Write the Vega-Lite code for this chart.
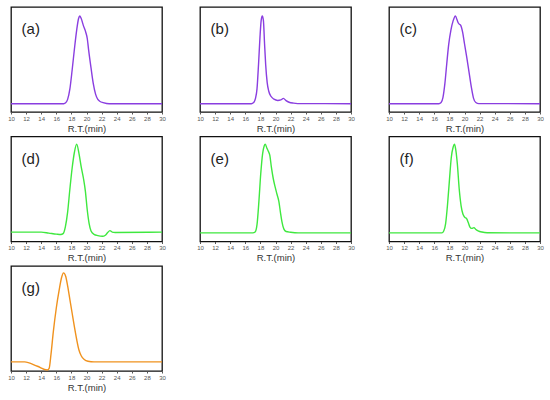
{
  "$schema": "https://vega.github.io/schema/vega-lite/v6.json",
  "padding": {"left": 7, "top": 6, "right": 5, "bottom": 5},
  "background": "white",
  "datasets": {
    "gpc": [
    {"panel": "(a)", "t": 10, "s": 7.9}, {"panel": "(a)", "t": 17.0, "s": 7.9}, {"panel": "(a)", "t": 17.2, "s": 8.5}, {"panel": "(a)", "t": 17.5, "s": 12}, {"panel": "(a)", "t": 17.8, "s": 22}, {"panel": "(a)", "t": 18.1, "s": 40}, {"panel": "(a)", "t": 18.4, "s": 60}, {"panel": "(a)", "t": 18.7, "s": 78}, {"panel": "(a)", "t": 18.95, "s": 89}, {"panel": "(a)", "t": 19.1, "s": 91.5}, {"panel": "(a)", "t": 19.3, "s": 89}, {"panel": "(a)", "t": 19.6, "s": 82}, {"panel": "(a)", "t": 19.9, "s": 76}, {"panel": "(a)", "t": 20.1, "s": 70}, {"panel": "(a)", "t": 20.3, "s": 58}, {"panel": "(a)", "t": 20.6, "s": 42}, {"panel": "(a)", "t": 20.9, "s": 27}, {"panel": "(a)", "t": 21.2, "s": 17}, {"panel": "(a)", "t": 21.5, "s": 12}, {"panel": "(a)", "t": 21.8, "s": 10}, {"panel": "(a)", "t": 22.2, "s": 9}, {"panel": "(a)", "t": 23.0, "s": 7.9}, {"panel": "(a)", "t": 30, "s": 7.9},

    {"panel": "(b)", "t": 10, "s": 7.9}, {"panel": "(b)", "t": 16.8, "s": 7.9}, {"panel": "(b)", "t": 17.1, "s": 9}, {"panel": "(b)", "t": 17.35, "s": 13}, {"panel": "(b)", "t": 17.55, "s": 22}, {"panel": "(b)", "t": 17.75, "s": 45}, {"panel": "(b)", "t": 17.95, "s": 72}, {"panel": "(b)", "t": 18.1, "s": 87}, {"panel": "(b)", "t": 18.25, "s": 91.5}, {"panel": "(b)", "t": 18.4, "s": 87}, {"panel": "(b)", "t": 18.55, "s": 65}, {"panel": "(b)", "t": 18.7, "s": 45}, {"panel": "(b)", "t": 18.9, "s": 28}, {"panel": "(b)", "t": 19.1, "s": 20}, {"panel": "(b)", "t": 19.4, "s": 15}, {"panel": "(b)", "t": 19.8, "s": 12.2}, {"panel": "(b)", "t": 20.3, "s": 11}, {"panel": "(b)", "t": 20.7, "s": 11.5}, {"panel": "(b)", "t": 21.05, "s": 13}, {"panel": "(b)", "t": 21.4, "s": 10.8}, {"panel": "(b)", "t": 21.8, "s": 9.3}, {"panel": "(b)", "t": 22.4, "s": 8.5}, {"panel": "(b)", "t": 23.5, "s": 8}, {"panel": "(b)", "t": 30, "s": 7.9},

    {"panel": "(c)", "t": 10, "s": 7.9}, {"panel": "(c)", "t": 16.6, "s": 7.9}, {"panel": "(c)", "t": 16.9, "s": 9}, {"panel": "(c)", "t": 17.15, "s": 14}, {"panel": "(c)", "t": 17.4, "s": 27}, {"panel": "(c)", "t": 17.65, "s": 46}, {"panel": "(c)", "t": 17.9, "s": 64}, {"panel": "(c)", "t": 18.2, "s": 78}, {"panel": "(c)", "t": 18.5, "s": 87}, {"panel": "(c)", "t": 18.8, "s": 91.5}, {"panel": "(c)", "t": 19.0, "s": 88}, {"panel": "(c)", "t": 19.2, "s": 84.5}, {"panel": "(c)", "t": 19.5, "s": 82.5}, {"panel": "(c)", "t": 19.75, "s": 76}, {"panel": "(c)", "t": 20.0, "s": 65}, {"panel": "(c)", "t": 20.3, "s": 52}, {"panel": "(c)", "t": 20.6, "s": 38}, {"panel": "(c)", "t": 20.9, "s": 24}, {"panel": "(c)", "t": 21.2, "s": 13}, {"panel": "(c)", "t": 21.5, "s": 9}, {"panel": "(c)", "t": 21.9, "s": 8}, {"panel": "(c)", "t": 30, "s": 7.9},

    {"panel": "(d)", "t": 10, "s": 8.9}, {"panel": "(d)", "t": 14, "s": 8.9}, {"panel": "(d)", "t": 15, "s": 8}, {"panel": "(d)", "t": 16, "s": 7}, {"panel": "(d)", "t": 16.6, "s": 6.6}, {"panel": "(d)", "t": 16.9, "s": 7.5}, {"panel": "(d)", "t": 17.2, "s": 14}, {"panel": "(d)", "t": 17.5, "s": 28}, {"panel": "(d)", "t": 17.8, "s": 50}, {"panel": "(d)", "t": 18.1, "s": 70}, {"panel": "(d)", "t": 18.4, "s": 85}, {"panel": "(d)", "t": 18.7, "s": 92.7}, {"panel": "(d)", "t": 19.0, "s": 84}, {"panel": "(d)", "t": 19.3, "s": 71}, {"panel": "(d)", "t": 19.6, "s": 60}, {"panel": "(d)", "t": 19.85, "s": 48}, {"panel": "(d)", "t": 20.1, "s": 30}, {"panel": "(d)", "t": 20.35, "s": 17}, {"panel": "(d)", "t": 20.6, "s": 10}, {"panel": "(d)", "t": 21.0, "s": 6.8}, {"panel": "(d)", "t": 21.5, "s": 5.6}, {"panel": "(d)", "t": 22.1, "s": 5}, {"panel": "(d)", "t": 22.5, "s": 6}, {"panel": "(d)", "t": 22.8, "s": 8.5}, {"panel": "(d)", "t": 23.1, "s": 10.4}, {"panel": "(d)", "t": 23.4, "s": 9}, {"panel": "(d)", "t": 23.8, "s": 8.6}, {"panel": "(d)", "t": 30, "s": 8.9},

    {"panel": "(e)", "t": 10, "s": 8.2}, {"panel": "(e)", "t": 17.0, "s": 8.2}, {"panel": "(e)", "t": 17.3, "s": 9}, {"panel": "(e)", "t": 17.55, "s": 16}, {"panel": "(e)", "t": 17.8, "s": 38}, {"panel": "(e)", "t": 18.05, "s": 65}, {"panel": "(e)", "t": 18.3, "s": 84}, {"panel": "(e)", "t": 18.5, "s": 91}, {"panel": "(e)", "t": 18.65, "s": 92.7}, {"panel": "(e)", "t": 18.85, "s": 89}, {"panel": "(e)", "t": 19.05, "s": 86}, {"panel": "(e)", "t": 19.25, "s": 82}, {"panel": "(e)", "t": 19.45, "s": 71}, {"panel": "(e)", "t": 19.7, "s": 60}, {"panel": "(e)", "t": 19.95, "s": 52}, {"panel": "(e)", "t": 20.2, "s": 45}, {"panel": "(e)", "t": 20.45, "s": 38}, {"panel": "(e)", "t": 20.65, "s": 28}, {"panel": "(e)", "t": 20.85, "s": 19}, {"panel": "(e)", "t": 21.1, "s": 12}, {"panel": "(e)", "t": 21.4, "s": 9.5}, {"panel": "(e)", "t": 22, "s": 8.8}, {"panel": "(e)", "t": 23, "s": 8.2}, {"panel": "(e)", "t": 30, "s": 8.2},

    {"panel": "(f)", "t": 10, "s": 8.2}, {"panel": "(f)", "t": 17.0, "s": 8.2}, {"panel": "(f)", "t": 17.25, "s": 10}, {"panel": "(f)", "t": 17.5, "s": 17}, {"panel": "(f)", "t": 17.75, "s": 35}, {"panel": "(f)", "t": 18.0, "s": 58}, {"panel": "(f)", "t": 18.25, "s": 80}, {"panel": "(f)", "t": 18.5, "s": 90}, {"panel": "(f)", "t": 18.68, "s": 92.7}, {"panel": "(f)", "t": 18.85, "s": 87}, {"panel": "(f)", "t": 19.05, "s": 74}, {"panel": "(f)", "t": 19.3, "s": 50}, {"panel": "(f)", "t": 19.55, "s": 34}, {"panel": "(f)", "t": 19.8, "s": 26}, {"panel": "(f)", "t": 20.05, "s": 23}, {"panel": "(f)", "t": 20.3, "s": 21.5}, {"panel": "(f)", "t": 20.5, "s": 18}, {"panel": "(f)", "t": 20.7, "s": 14}, {"panel": "(f)", "t": 20.95, "s": 12.5}, {"panel": "(f)", "t": 21.25, "s": 13.2}, {"panel": "(f)", "t": 21.5, "s": 11.5}, {"panel": "(f)", "t": 21.8, "s": 10.2}, {"panel": "(f)", "t": 22.3, "s": 9}, {"panel": "(f)", "t": 23, "s": 8.3}, {"panel": "(f)", "t": 30, "s": 8.2},

    {"panel": "(g)", "t": 10, "s": 8.7}, {"panel": "(g)", "t": 11.8, "s": 8.7}, {"panel": "(g)", "t": 13.5, "s": 4.5}, {"panel": "(g)", "t": 14.8, "s": 1}, {"panel": "(g)", "t": 15.05, "s": 2.5}, {"panel": "(g)", "t": 15.3, "s": 16}, {"panel": "(g)", "t": 15.6, "s": 37}, {"panel": "(g)", "t": 16.0, "s": 60}, {"panel": "(g)", "t": 16.4, "s": 78}, {"panel": "(g)", "t": 16.7, "s": 89}, {"panel": "(g)", "t": 16.95, "s": 93.5}, {"panel": "(g)", "t": 17.25, "s": 90}, {"panel": "(g)", "t": 17.5, "s": 81}, {"panel": "(g)", "t": 17.8, "s": 68}, {"panel": "(g)", "t": 18.1, "s": 55}, {"panel": "(g)", "t": 18.4, "s": 42}, {"panel": "(g)", "t": 18.7, "s": 30}, {"panel": "(g)", "t": 19.0, "s": 20}, {"panel": "(g)", "t": 19.3, "s": 14.5}, {"panel": "(g)", "t": 19.7, "s": 11}, {"panel": "(g)", "t": 20.2, "s": 9.3}, {"panel": "(g)", "t": 21, "s": 8.7}, {"panel": "(g)", "t": 30, "s": 8.7}
    ]
  },
  "data": {"name": "gpc"},
  "columns": 3,
  "spacing": {"row": 1.5, "column": 30},
  "concat": [
    {"width": 151, "height": 105, "transform": [{"filter": "datum.panel === '(a)'"}], "layer": [
      {"mark": {"type": "line", "strokeWidth": 1.4, "interpolate": "monotone", "color": "#8a3ee0"},
       "encoding": {"x": {"field": "t", "type": "quantitative", "scale": {"domain": [10, 30], "nice": false}, "title": "R.T.(min)", "axis": {"values": [10, 12, 14, 16, 18, 20, 22, 24, 26, 28, 30], "labelOverlap": false}},
                    "y": {"field": "s", "type": "quantitative", "scale": {"domain": [0, 100], "nice": false}, "axis": null}}},
      {"transform": [{"aggregate": [], "groupby": ["panel"]}], "mark": {"type": "text", "align": "left", "baseline": "middle", "fontSize": 15, "font": "Liberation Sans", "color": "#222"},
       "encoding": {"x": {"datum": 11.4, "type": "quantitative", "title": "R.T.(min)", "axis": {"values": [10, 12, 14, 16, 18, 20, 22, 24, 26, 28, 30], "labelOverlap": false}}, "y": {"datum": 79, "type": "quantitative", "axis": null}, "text": {"field": "panel"}}}
    ]},
    {"width": 151, "height": 105, "transform": [{"filter": "datum.panel === '(b)'"}], "layer": [
      {"mark": {"type": "line", "strokeWidth": 1.4, "interpolate": "monotone", "color": "#8a3ee0"},
       "encoding": {"x": {"field": "t", "type": "quantitative", "scale": {"domain": [10, 30], "nice": false}, "title": "R.T.(min)", "axis": {"values": [10, 12, 14, 16, 18, 20, 22, 24, 26, 28, 30], "labelOverlap": false}},
                    "y": {"field": "s", "type": "quantitative", "scale": {"domain": [0, 100], "nice": false}, "axis": null}}},
      {"transform": [{"aggregate": [], "groupby": ["panel"]}], "mark": {"type": "text", "align": "left", "baseline": "middle", "fontSize": 15, "font": "Liberation Sans", "color": "#222"},
       "encoding": {"x": {"datum": 11.4, "type": "quantitative", "title": "R.T.(min)", "axis": {"values": [10, 12, 14, 16, 18, 20, 22, 24, 26, 28, 30], "labelOverlap": false}}, "y": {"datum": 79, "type": "quantitative", "axis": null}, "text": {"field": "panel"}}}
    ]},
    {"width": 151, "height": 105, "transform": [{"filter": "datum.panel === '(c)'"}], "layer": [
      {"mark": {"type": "line", "strokeWidth": 1.4, "interpolate": "monotone", "color": "#8a3ee0"},
       "encoding": {"x": {"field": "t", "type": "quantitative", "scale": {"domain": [10, 30], "nice": false}, "title": "R.T.(min)", "axis": {"values": [10, 12, 14, 16, 18, 20, 22, 24, 26, 28, 30], "labelOverlap": false}},
                    "y": {"field": "s", "type": "quantitative", "scale": {"domain": [0, 100], "nice": false}, "axis": null}}},
      {"transform": [{"aggregate": [], "groupby": ["panel"]}], "mark": {"type": "text", "align": "left", "baseline": "middle", "fontSize": 15, "font": "Liberation Sans", "color": "#222"},
       "encoding": {"x": {"datum": 11.4, "type": "quantitative", "title": "R.T.(min)", "axis": {"values": [10, 12, 14, 16, 18, 20, 22, 24, 26, 28, 30], "labelOverlap": false}}, "y": {"datum": 79, "type": "quantitative", "axis": null}, "text": {"field": "panel"}}}
    ]},
    {"width": 151, "height": 105, "transform": [{"filter": "datum.panel === '(d)'"}], "layer": [
      {"mark": {"type": "line", "strokeWidth": 1.4, "interpolate": "monotone", "color": "#3fe83f"},
       "encoding": {"x": {"field": "t", "type": "quantitative", "scale": {"domain": [10, 30], "nice": false}, "title": "R.T.(min)", "axis": {"values": [10, 12, 14, 16, 18, 20, 22, 24, 26, 28, 30], "labelOverlap": false}},
                    "y": {"field": "s", "type": "quantitative", "scale": {"domain": [0, 100], "nice": false}, "axis": null}}},
      {"transform": [{"aggregate": [], "groupby": ["panel"]}], "mark": {"type": "text", "align": "left", "baseline": "middle", "fontSize": 15, "font": "Liberation Sans", "color": "#222"},
       "encoding": {"x": {"datum": 11.4, "type": "quantitative", "title": "R.T.(min)", "axis": {"values": [10, 12, 14, 16, 18, 20, 22, 24, 26, 28, 30], "labelOverlap": false}}, "y": {"datum": 79, "type": "quantitative", "axis": null}, "text": {"field": "panel"}}}
    ]},
    {"width": 151, "height": 105, "transform": [{"filter": "datum.panel === '(e)'"}], "layer": [
      {"mark": {"type": "line", "strokeWidth": 1.4, "interpolate": "monotone", "color": "#3fe83f"},
       "encoding": {"x": {"field": "t", "type": "quantitative", "scale": {"domain": [10, 30], "nice": false}, "title": "R.T.(min)", "axis": {"values": [10, 12, 14, 16, 18, 20, 22, 24, 26, 28, 30], "labelOverlap": false}},
                    "y": {"field": "s", "type": "quantitative", "scale": {"domain": [0, 100], "nice": false}, "axis": null}}},
      {"transform": [{"aggregate": [], "groupby": ["panel"]}], "mark": {"type": "text", "align": "left", "baseline": "middle", "fontSize": 15, "font": "Liberation Sans", "color": "#222"},
       "encoding": {"x": {"datum": 11.4, "type": "quantitative", "title": "R.T.(min)", "axis": {"values": [10, 12, 14, 16, 18, 20, 22, 24, 26, 28, 30], "labelOverlap": false}}, "y": {"datum": 79, "type": "quantitative", "axis": null}, "text": {"field": "panel"}}}
    ]},
    {"width": 151, "height": 105, "transform": [{"filter": "datum.panel === '(f)'"}], "layer": [
      {"mark": {"type": "line", "strokeWidth": 1.4, "interpolate": "monotone", "color": "#3fe83f"},
       "encoding": {"x": {"field": "t", "type": "quantitative", "scale": {"domain": [10, 30], "nice": false}, "title": "R.T.(min)", "axis": {"values": [10, 12, 14, 16, 18, 20, 22, 24, 26, 28, 30], "labelOverlap": false}},
                    "y": {"field": "s", "type": "quantitative", "scale": {"domain": [0, 100], "nice": false}, "axis": null}}},
      {"transform": [{"aggregate": [], "groupby": ["panel"]}], "mark": {"type": "text", "align": "left", "baseline": "middle", "fontSize": 15, "font": "Liberation Sans", "color": "#222"},
       "encoding": {"x": {"datum": 11.4, "type": "quantitative", "title": "R.T.(min)", "axis": {"values": [10, 12, 14, 16, 18, 20, 22, 24, 26, 28, 30], "labelOverlap": false}}, "y": {"datum": 79, "type": "quantitative", "axis": null}, "text": {"field": "panel"}}}
    ]},
    {"width": 151, "height": 105, "transform": [{"filter": "datum.panel === '(g)'"}], "layer": [
      {"mark": {"type": "line", "strokeWidth": 1.4, "interpolate": "monotone", "color": "#f0921e"},
       "encoding": {"x": {"field": "t", "type": "quantitative", "scale": {"domain": [10, 30], "nice": false}, "title": "R.T.(min)", "axis": {"values": [10, 12, 14, 16, 18, 20, 22, 24, 26, 28, 30], "labelOverlap": false}},
                    "y": {"field": "s", "type": "quantitative", "scale": {"domain": [0, 100], "nice": false}, "axis": null}}},
      {"transform": [{"aggregate": [], "groupby": ["panel"]}], "mark": {"type": "text", "align": "left", "baseline": "middle", "fontSize": 15, "font": "Liberation Sans", "color": "#222"},
       "encoding": {"x": {"datum": 11.4, "type": "quantitative", "title": "R.T.(min)", "axis": {"values": [10, 12, 14, 16, 18, 20, 22, 24, 26, 28, 30], "labelOverlap": false}}, "y": {"datum": 79, "type": "quantitative", "axis": null}, "text": {"field": "panel"}}}
    ]}
  ],
  "config": {
    "view": {"stroke": "#111", "strokeWidth": 1.3},
    "axis": {"labelOverlap": false},
    "axisX": {"grid": false, "domain": false, "labelOverlap": false,
              "labelFlush": false, "labelBound": false,
              "tickSize": 2, "tickColor": "#555", "labelFontSize": 6, "labelColor": "#555", "labelPadding": 1,
              "labelFont": "Liberation Sans", "titleFont": "Liberation Sans", "titleFontSize": 9.5, "titleFontWeight": "normal",
              "titleColor": "#333", "titlePadding": 2}
  }
}
